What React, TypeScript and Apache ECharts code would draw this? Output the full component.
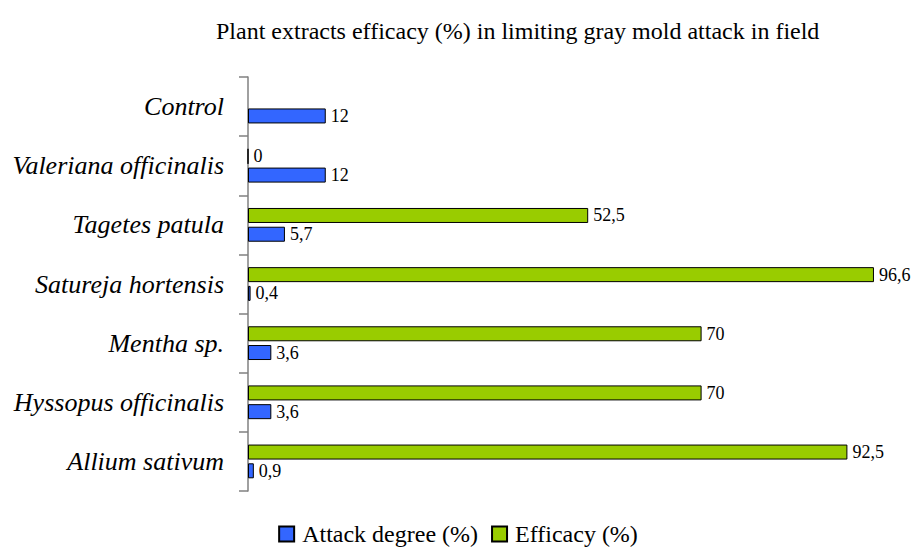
import React, { useEffect, useRef } from "react";
import * as echarts from "echarts";

const categories = [
  "Allium sativum",
  "Hyssopus officinalis",
  "Mentha sp.",
  "Satureja hortensis",
  "Tagetes patula",
  "Valeriana officinalis",
  "Control",
];
const attackDegree = [0.9, 3.6, 3.6, 0.4, 5.7, 12, 12];
const efficacy: (number | null)[] = [92.5, 70, 70, 96.6, 52.5, 0, null];
const seriesNames = ["Attack degree (%)", "Efficacy (%)"];
const titleText = "Plant extracts efficacy (%) in limiting gray mold attack in field";

const FONT = "'Liberation Serif', 'Times New Roman', serif";

const fmt = (p: any) =>
  p.value === null || p.value === undefined || p.value === "-"
    ? ""
    : String(p.value).replace(".", ",");

const labelStyle = {
  show: true,
  position: "right",
  distance: 5,
  formatter: fmt,
  fontFamily: FONT,
  fontSize: 18,
  color: "#000",
};

export default function App() {
  const ref = useRef<HTMLDivElement>(null);
  useEffect(() => {
    document.body.style.margin = "0";
    const chart = echarts.init(ref.current!, null, { renderer: "svg" });
    chart.setOption({
      animation: false,
      backgroundColor: "#ffffff",
      title: {
        text: titleText,
        left: 211,
        top: 14,
        textStyle: { fontFamily: FONT, fontSize: 24, fontWeight: "normal", color: "#000" },
      },
      legend: {
        top: 517,
        left: "center",
        itemWidth: 15,
        itemHeight: 15,
        itemGap: 13,
        icon: "rect",
        textStyle: { fontFamily: FONT, fontSize: 24, color: "#000", padding: [0, 0, 0, 3] },
        data: seriesNames,
      },
      grid: { left: 248, right: 20, top: 77, bottom: 58, containLabel: false },
      xAxis: {
        type: "value",
        min: 0,
        max: 100,
        show: false,
      },
      yAxis: {
        type: "category",
        data: categories,
        axisLine: { show: true, lineStyle: { color: "#808080", width: 1.5 } },
        axisTick: { show: true, length: 9, lineStyle: { color: "#808080", width: 1.5 } },
        axisLabel: {
          margin: 24,
          fontFamily: FONT,
          fontStyle: "italic",
          fontSize: 26,
          color: "#000",
        },
        splitLine: { show: false },
      },
      series: [
        {
          name: seriesNames[1],
          type: "bar",
          data: efficacy.map((v) => (v === null ? "-" : v)),
          barWidth: 15,
          barGap: "25%",
          itemStyle: { color: "#99cc00", borderColor: "#000", borderWidth: 1 },
          label: labelStyle,
        },
        {
          name: seriesNames[0],
          type: "bar",
          data: attackDegree,
          barWidth: 15,
          barGap: "25%",
          itemStyle: { color: "#3366ff", borderColor: "#000", borderWidth: 1 },
          label: labelStyle,
        },
      ],
    });
    return () => chart.dispose();
  }, []);
  return <div ref={ref} style={{ width: 916, height: 549 }} />;
}
